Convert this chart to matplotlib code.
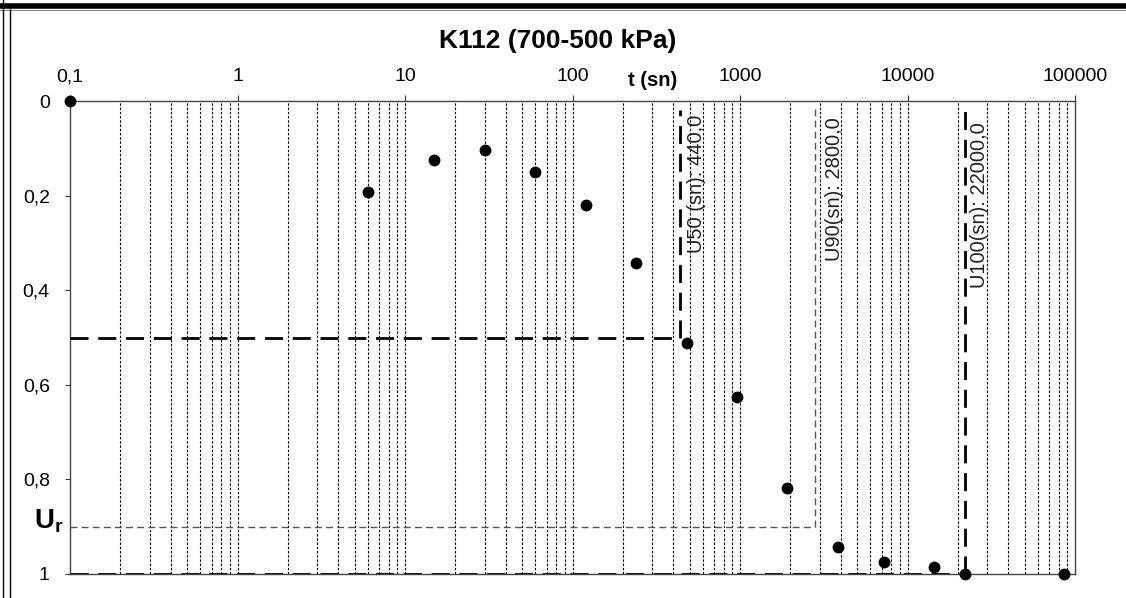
import matplotlib
matplotlib.use("Agg")
import matplotlib.pyplot as plt
from matplotlib.lines import Line2D
from matplotlib.ticker import FixedLocator, NullFormatter

plt.rcParams['font.family'] = ['Liberation Sans', 'DejaVu Sans']
plt.rcParams['mathtext.fontset'] = 'custom'
plt.rcParams['mathtext.rm'] = 'Liberation Sans'
plt.rcParams['mathtext.bf'] = 'Liberation Sans:bold'

# Consolidation readings: elapsed time (s) and degree of consolidation
time_s = [0.1, 6, 15, 30, 60, 120, 240, 480, 960, 1920, 3840, 7200, 14400, 22000, 86400]
u_val = [0.0, 0.192, 0.125, 0.104, 0.150, 0.220, 0.342, 0.512, 0.626, 0.818, 0.943, 0.975, 0.985, 1.0, 1.0]

x_ticks = [0.1, 1, 10, 100, 1000, 10000, 100000]
x_labels = ["0,1", "1", "10", "100", "1000", "10000", "100000"]
y_ticks = [0, 0.2, 0.4, 0.6, 0.8, 1.0]
y_labels = ["0", "0,2", "0,4", "0,6", "0,8", "1"]

t50, t90, t100 = 440.0, 2800.0, 22000.0
u50, u90, u100 = 0.5, 0.9, 1.0

W, H = 1126, 598
fig = plt.figure(figsize=(W / 100, H / 100), dpi=100)
ax = fig.add_axes([70 / W, 1 - 574 / H, (1075 - 70) / W, (574 - 101) / H])

ax.set_xscale('log')
ax.set_xlim(0.1, 100000)
ax.set_ylim(1.0, 0.0)

# vertical dotted grid at every decade subdivision
minor = []
for d in range(-1, 5):
    for m in range(2, 10):
        minor.append(m * 10.0 ** d)
ax.xaxis.set_minor_locator(FixedLocator(minor))
ax.xaxis.set_minor_formatter(NullFormatter())
ax.set_xticks(x_ticks)
ax.set_xticklabels(x_labels)
ax.set_yticks(y_ticks)
ax.set_yticklabels(y_labels)
for x in minor + x_ticks[1:-1]:
    ax.axvline(x, color='black', lw=0.8, dashes=(2.2, 1.6), zorder=1)

ax.xaxis.tick_top()
ax.tick_params(axis='x', which='major', direction='out', length=4.5, width=0.8,
               labelsize=14, pad=7, colors='#333333', labelcolor='black')
ax.tick_params(axis='x', which='minor', length=0)
ax.tick_params(axis='y', which='major', direction='out', length=3.5, width=0.8,
               labelsize=14, pad=11, colors='#333333', labelcolor='black')
for sp in ax.spines.values():
    sp.set_color('#444444')
    sp.set_linewidth(1.0)

# U90 construction (thin grey dashes)
ax.plot([0.1, t90], [u90, u90], color='#555555', lw=1.0, dashes=(5, 3), zorder=2)
ax.plot([t90, t90], [u90, 0.015], color='#555555', lw=1.0, dashes=(5, 3), zorder=2)

# U50 construction (heavy dashes)
heavy = dict(color='black', lw=2.0, dashes=(6.5, 3.5), zorder=3)
ax.plot([0.1, t50], [u50, u50], **heavy)
ax.plot([t50, t50], [u50, 0.02], **heavy)

# U100 construction
ax.plot([0.1, t100], [u100, u100], **heavy)
ax.plot([t100, t100], [u100, 0.005], **heavy)

ax.plot(time_s, u_val, linestyle='none', marker='o', markersize=7.5,
        color='black', zorder=5, clip_on=False)

label_style = dict(rotation=90, ha='center', va='top', fontsize=14.5, color='#222222',
                   textcoords='offset points', zorder=4)
ax.annotate("U50 (sn): 440,0", xy=(t50, 0.0), xytext=(11.5, -10), **label_style)
ax.annotate("U90(sn): 2800,0", xy=(t90, 0.0), xytext=(14, -12), **label_style)
ax.annotate("U100(sn): 22000,0", xy=(t100, 0.0), xytext=(10.5, -15), **label_style)

fig.text(558 / W, 1 - 41 / H, "K112 (700-500 kPa)", ha='center', va='center',
         fontsize=19, fontweight='bold')
fig.text(653 / W, 1 - 81 / H, "t (sn)", ha='center', va='center',
         fontsize=14.5, fontweight='bold')
fig.text(49 / W, 1 - 521 / H, r"$\mathbf{U_r}$", ha='center', va='center',
         fontsize=20)

# outer frame of the sheet
fig.add_artist(Line2D([0, 1], [1 - 5.5 / H, 1 - 5.5 / H], transform=fig.transFigure,
                      color='black', lw=4.0))
fig.add_artist(Line2D([0, 1], [1 - 9.5 / H, 1 - 9.5 / H], transform=fig.transFigure,
                      color='#888888', lw=0.8))
fig.add_artist(Line2D([3 / W, 3 / W], [0, 1], transform=fig.transFigure,
                      color='black', lw=1.0))
fig.add_artist(Line2D([10 / W, 10 / W], [0, 1 - 9 / H], transform=fig.transFigure,
                      color='black', lw=1.0))

fig.savefig("out.png", dpi=100)
